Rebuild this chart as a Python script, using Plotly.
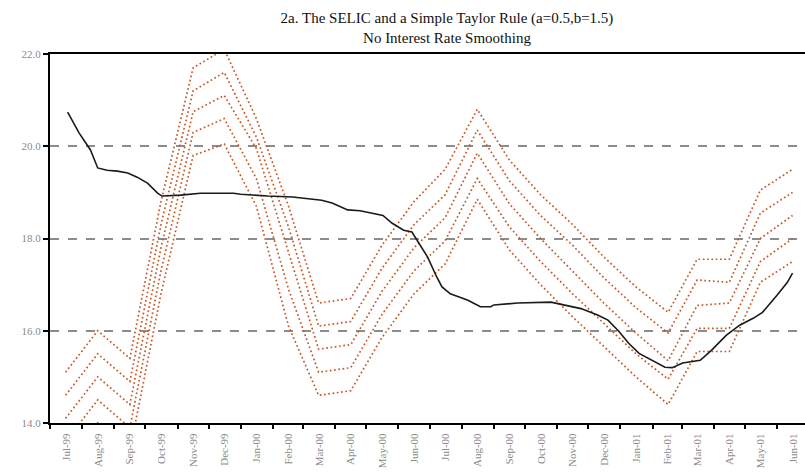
import plotly.graph_objects as go

# Monthly categories (Jul-99 .. Jun-01), plotted at mid-month
months = ["1999-07", "1999-08", "1999-09", "1999-10", "1999-11", "1999-12",
          "2000-01", "2000-02", "2000-03", "2000-04", "2000-05", "2000-06",
          "2000-07", "2000-08", "2000-09", "2000-10", "2000-11", "2000-12",
          "2001-01", "2001-02", "2001-03", "2001-04", "2001-05", "2001-06"]
month_dates = [m + "-16" for m in months]

# Taylor-rule paths (five variants)
taylor_1 = [15.1, 16.0, 15.4, 18.8, 21.7, 22.1, 20.6, 18.7, 16.6, 16.7, 17.85, 18.8,
            19.5, 20.8, 19.7, 18.95, 18.3, 17.6, 16.95, 16.4, 17.55, 17.55, 19.05, 19.5]
taylor_2 = [14.6, 15.5, 14.9, 18.3, 21.2, 21.6, 20.2, 18.25, 16.1, 16.2, 17.35, 18.3,
            18.95, 20.35, 19.25, 18.5, 17.85, 17.15, 16.5, 15.95, 17.1, 17.05, 18.55, 19.0]
taylor_3 = [14.1, 15.0, 14.4, 17.8, 20.75, 21.1, 19.95, 17.7, 15.6, 15.7, 16.85, 17.8,
            18.45, 19.85, 18.75, 18.0, 17.3, 16.6, 15.95, 15.35, 16.55, 16.6, 18.0, 18.5]
taylor_4 = [13.6, 14.5, 13.9, 17.3, 20.3, 20.6, 19.3, 16.9, 15.1, 15.2, 16.35, 17.3,
            17.95, 19.3, 18.25, 17.5, 16.8, 16.15, 15.5, 14.95, 16.05, 16.05, 17.5, 18.0]
taylor_5 = [13.1, 14.0, 13.4, 16.8, 19.8, 20.05, 18.7, 16.1, 14.6, 14.7, 15.85, 16.8,
            17.45, 18.85, 17.75, 17.0, 16.3, 15.65, 15.0, 14.4, 15.55, 15.55, 17.05, 17.5]

# SELIC (read at finer dates)
selic_dates = ["1999-07-18", "1999-07-29", "1999-08-09", "1999-08-16", "1999-08-25",
               "1999-09-04", "1999-09-14", "1999-09-23", "1999-10-03", "1999-10-13",
               "1999-10-17", "1999-11-04", "1999-11-23", "1999-12-25", "2000-01-01",
               "2000-01-27", "2000-02-20", "2000-03-19", "2000-03-29", "2000-04-13",
               "2000-04-25", "2000-05-07", "2000-05-17", "2000-05-26", "2000-06-06",
               "2000-06-14", "2000-06-20", "2000-06-29", "2000-07-08", "2000-07-13",
               "2000-07-21", "2000-08-07", "2000-08-19", "2000-08-29", "2000-09-01",
               "2000-09-24", "2000-10-26", "2000-11-11", "2000-11-24", "2000-12-10",
               "2000-12-20", "2000-12-30", "2001-01-09", "2001-01-19", "2001-01-31",
               "2001-02-13", "2001-02-20", "2001-03-02", "2001-03-19", "2001-03-30",
               "2001-04-13", "2001-04-26", "2001-05-09", "2001-05-18", "2001-06-01",
               "2001-06-11", "2001-06-16"]
selic_values = [20.74, 20.29, 19.92, 19.53, 19.48, 19.46, 19.42, 19.33, 19.2, 18.98,
                18.92, 18.94, 18.98, 18.98, 18.96, 18.92, 18.9, 18.83, 18.77, 18.62,
                18.6, 18.55, 18.5, 18.33, 18.18, 18.14, 17.93, 17.6, 17.16, 16.95,
                16.8, 16.66, 16.52, 16.52, 16.56, 16.6, 16.62, 16.55, 16.48, 16.34,
                16.23, 16.0, 15.73, 15.51, 15.36, 15.21, 15.2, 15.3, 15.36, 15.58,
                15.9, 16.12, 16.27, 16.4, 16.77, 17.05, 17.25]

y_ticks = [14.0, 16.0, 18.0, 20.0, 22.0]

ORANGE = "#c65a27"
SERIF = "Liberation Serif, Times New Roman, serif"

fig = go.Figure()
for series in [taylor_1, taylor_2, taylor_3, taylor_4, taylor_5]:
    fig.add_trace(go.Scatter(
        x=month_dates, y=series, mode="lines",
        line=dict(color=ORANGE, width=1.7, dash="1.7px,2.6px"),
        showlegend=False, hoverinfo="skip"))

fig.add_trace(go.Scatter(
    x=selic_dates, y=selic_values, mode="lines",
    line=dict(color="#1a1a1a", width=1.6),
    showlegend=False))

fig.update_layout(
    width=805, height=474,
    margin=dict(l=50, r=0, t=54, b=51),
    paper_bgcolor="white", plot_bgcolor="white",
    title=dict(
        text="2a. The SELIC and a Simple Taylor Rule (a=0.5,b=1.5)<br>No Interest Rate Smoothing",
        x=447 / 805, xref="container", xanchor="center",
        y=1 - 23 / 474, yref="container", yanchor="top",
        font=dict(family=SERIF, size=15, color="#111")),
    xaxis=dict(
        type="date", range=["1999-07-01", "2001-06-28"],
        tick0="1999-07-01", dtick="M1", ticklabelmode="period",
        tickformat="%b-%y", tickangle=-90,
        ticks="outside", ticklen=4, tickcolor="black", tickwidth=1.5,
        showline=True, linecolor="black", linewidth=2, mirror=True,
        showgrid=False, zeroline=False, automargin=False,
        tickfont=dict(family=SERIF, size=11, color="#8a8a8a")),
    yaxis=dict(
        range=[14, 22], tickvals=y_ticks, tickformat=".1f",
        ticks="outside", ticklen=5, tickcolor="black", tickwidth=1.5,
        showline=True, linecolor="black", linewidth=2,
        showgrid=True, gridcolor="#8c8c8c", gridwidth=1.5, griddash="dash",
        zeroline=False, automargin=False,
        tickfont=dict(family=SERIF, size=11, color="#8a8a8a")),
)

fig.write_html("out.html", config={"displayModeBar": False},
               post_script="document.body.style.margin='0';document.body.style.overflow='hidden';")
